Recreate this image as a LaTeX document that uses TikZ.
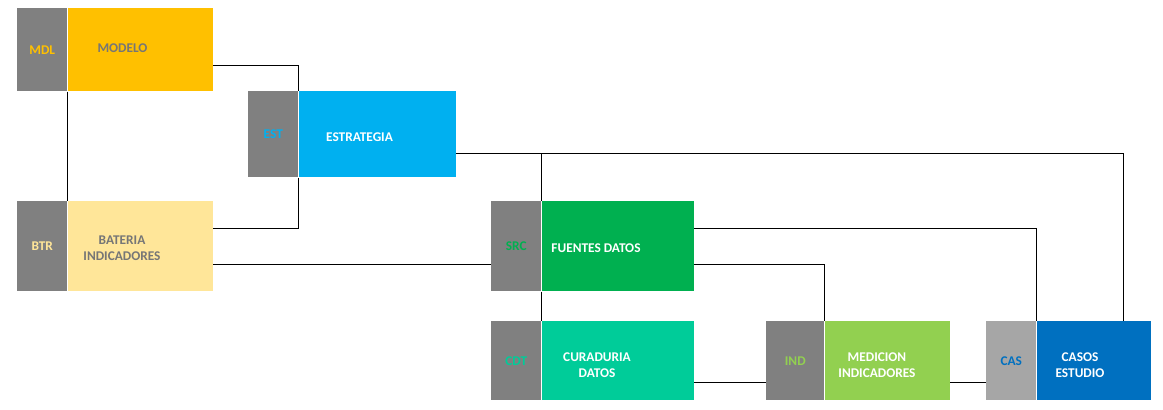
\documentclass[tikz,border=0pt]{standalone}
\usepackage{fontspec}
\setmainfont{Carlito}
\usepackage{xcolor}
\usetikzlibrary{calc}

\definecolor{tabgray}{HTML}{808080}
\definecolor{casgray}{HTML}{A6A6A6}
\definecolor{txtgray}{HTML}{767676}
\definecolor{mdlyellow}{HTML}{FFC000}
\definecolor{estblue}{HTML}{00B0F0}
\definecolor{btryellow}{HTML}{FFE699}
\definecolor{srcgreen}{HTML}{00B050}
\definecolor{cdtteal}{HTML}{00CC99}
\definecolor{indgreen}{HTML}{92D050}
\definecolor{casblue}{HTML}{0070C0}

\tikzset{
    tab/.style={fill=tabgray, anchor=north west, inner sep=0pt, minimum width=37.5pt, font=\bfseries},
    body/.style={anchor=north west, inner sep=0pt},
    txt/.style={font=\bfseries, align=center, inner sep=0pt},
    conn/.style={line width=0.75pt, black}
}

\begin{document}
\begin{tikzpicture}[x=0.75pt, y=-0.75pt]
        \useasboundingbox (0,0) rectangle (1163,410);

        % \coordinate (top) at (0,8);
        \coordinate (j1) at (298,66);
        \coordinate (j2) at (298,228);
        \coordinate (j3) at (0,264);
        \coordinate (j4) at (1123,153);
        \coordinate (j5) at (1036,228);
        \coordinate (j6) at (824,264);
        \coordinate (j7) at (0,382);

        % first row
        \node[tab, minimum height=62.25pt, text=mdlyellow] (mdlT) at (17,8) {MDL};
        \node[body, fill=mdlyellow, minimum width=108.75pt, minimum height=62.25pt] (mdl) at (mdlT.north east) {};
        \node[tab, minimum height=64.5pt, text=estblue] (estT) at (248,91) {EST};
        \node[body, fill=estblue, minimum width=117.75pt, minimum height=64.5pt] (est) at (estT.north east) {};

        % second row
        \node[tab, minimum height=67.5pt, text=btryellow] (btrT) at (17,201) {BTR};
        \node[body, fill=btryellow, minimum width=108.75pt, minimum height=67.5pt] (btr) at (btrT.north east) {};
        \node[tab, minimum height=67.5pt, text=srcgreen] (srcT) at (491,201) {SRC};
        \node[body, fill=srcgreen, minimum width=114pt, minimum height=67.5pt] (src) at (srcT.north east) {};

        % third row
        \node[tab, minimum height=59.25pt, text=cdtteal] (cdtT) at (491,321) {CDT};
        \node[body, fill=cdtteal, minimum width=114pt, minimum height=59.25pt] (cdt) at (cdtT.north east) {};
        \node[tab, minimum width=43.5pt, minimum height=59.25pt, text=indgreen] (indT) at (766,321) {IND};
        \node[body, fill=indgreen, minimum width=93.75pt, minimum height=59.25pt] (ind) at (indT.north east) {};
        \node[tab, fill=casgray, minimum height=59.25pt, text=casblue] (casT) at (986,321) {CAS};
        \node[body, fill=casblue, minimum width=85.5pt, minimum height=59.25pt] (cas) at (casT.north east) {};

        \node[txt, text=txtgray] (mdlTxt) at (122.5,48) {MODELO};
        \node[txt, text=white] (estTxt) at (359.5,137) {ESTRATEGIA};
        \node[txt, text=txtgray] (btrTxt) at (122,248) {BATERIA\\INDICADORES};
        \node[txt, text=white] (srcTxt) at (596,248) {FUENTES DATOS};
        \node[txt, text=white] (cdtTxt) at (597,365.5) {CURADURIA\\DATOS};
        \node[txt, text=white] (indTxt) at (877,365.5) {MEDICION\\INDICADORES};
        \node[txt, text=white] (casTxt) at (1080,365.5) {CASOS\\ESTUDIO};

        \draw[conn] (mdl.east |- j1) -| (est.north west);
        \draw[conn] (mdl.south west) -- (btr.north west);
        \draw[conn] (est.south west) |- (btr.east |- j2);
        \draw[conn] (btr.east |- j3) -- (srcT.west |- j3);
        \draw[conn] (est.east |- j4) -| (j4 |- cas.north);
        \draw[conn] (src.north west) -- (src.north west |- j4);
        \draw[conn] (src.east |- j5) -| (cas.north west);
        \draw[conn] (src.east |- j6) -| (ind.north west);
        \draw[conn] (src.south west) -- (cdt.north west);
        \draw[conn] (cdt.east |- j7) -- (indT.west |- j7);
        \draw[conn] (ind.east |- j7) -- (casT.west |- j7);
    \end{tikzpicture}
\end{document}
